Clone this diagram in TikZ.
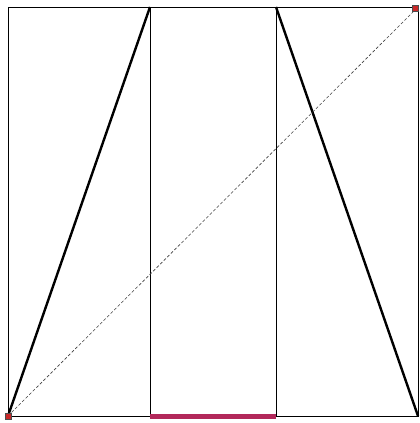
\documentclass[tikz,border=0pt]{standalone}
\definecolor{bandred}{RGB}{178,40,90}
\definecolor{cornerred}{RGB}{200,40,40}
\begin{document}
\begin{tikzpicture}[x=1pt,y=-1pt]
\useasboundingbox (0,0) rectangle (420,423);
\coordinate (A) at (8,416);
\coordinate (B) at (418,416);
\coordinate (C) at (418,7);
\coordinate (D) at (8,7);
\coordinate (P) at (150,7);
\coordinate (Q) at (276,7);
\coordinate (P0) at (150,416);
\coordinate (Q0) at (276,416);
\draw[line width=1pt] (A) rectangle (C);
\draw[line width=1pt] (P) -- (P0);
\draw[line width=1pt] (Q) -- (Q0);
\draw[line width=2.4pt] (A) -- (P);
\draw[line width=2.4pt] (Q) -- (B);
\draw[densely dashed,line width=0.6pt,black!75] (A) -- (C);
\draw[bandred,line width=4.5pt,transform canvas={yshift=-0.5pt}] (P0) -- (Q0);
\filldraw[fill=cornerred,draw=black!70,line width=0.5pt] (A) ++(-3,-3) rectangle ++(6,6);
\filldraw[fill=cornerred,draw=black!70,line width=0.5pt] (C) ++(-6,-2) rectangle ++(6,6);
\end{tikzpicture}
\end{document}
